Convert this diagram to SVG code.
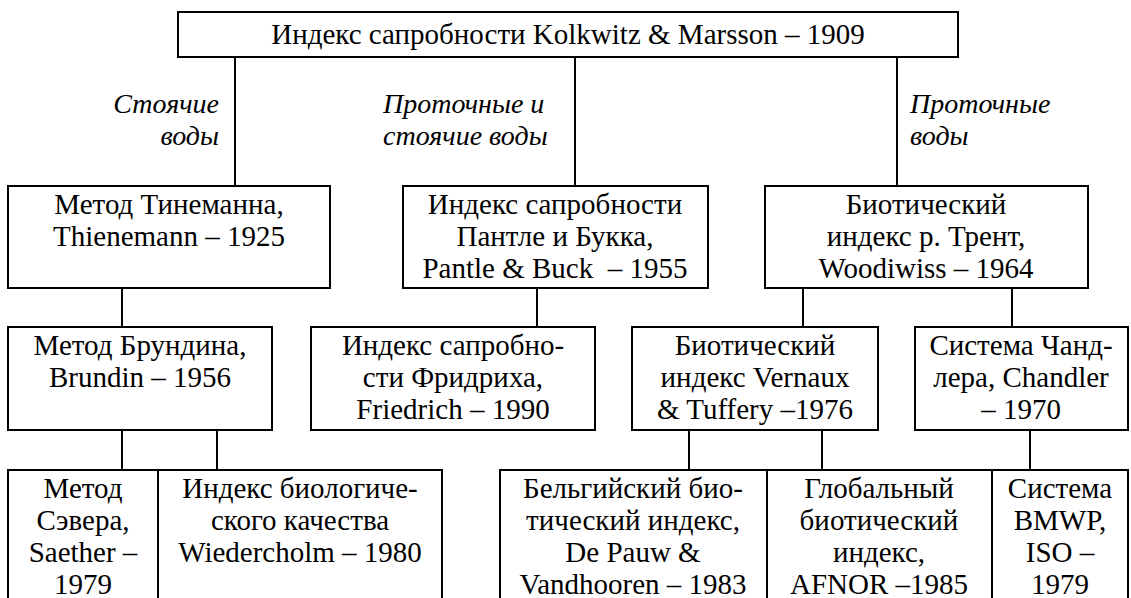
<svg xmlns="http://www.w3.org/2000/svg" width="1131" height="598" viewBox="0 0 1131 598">
<style>
.box{fill:#fff;stroke:#000;stroke-width:2}
text{font-family:'Liberation Serif','Times New Roman','DejaVu Serif',serif;fill:#000}
.t{font-size:29px;text-anchor:middle}
.i{font-size:28px;font-style:italic}
.c{stroke:#000;stroke-width:2;fill:none}
</style>
<rect width="1131" height="598" fill="#fff"/>
<g id="connectors">
<path class="c" d="M235 57V186M575 57V186M897 57V186"/>
<path class="c" d="M122 288V327M537 288V327M803 288V327M1012 288V327"/>
<path class="c" d="M122 430V470M217 430V470M689 430V470M822 430V470M1030 430V470"/>
</g>
<g id="labels">
<text class="i" x="219" y="113" text-anchor="end">Стоячие</text>
<text class="i" x="219" y="145" text-anchor="end">воды</text>
<text class="i" x="383" y="113">Проточные и</text>
<text class="i" x="383" y="145">стоячие воды</text>
<text class="i" x="910" y="113">Проточные</text>
<text class="i" x="910" y="145">воды</text>
</g>
<g id="n-root"><rect class="box" x="178" y="12" width="780" height="45"/><text class="t" x="568" y="44">Индекс сапробности Kolkwitz &amp; Marsson – 1909</text></g>
<g id="n-thienemann"><rect class="box" x="8" y="186" width="322" height="102"/><text class="t" x="169" y="214">Метод Тинеманна,</text><text class="t" x="169" y="246">Thienemann – 1925</text></g>
<g id="n-pantle"><rect class="box" x="403" y="186" width="305" height="102"/><text class="t" x="555" y="214">Индекс сапробности</text><text class="t" x="555" y="246">Пантле и Букка,</text><text class="t" x="555" y="278">Pantle &amp; Buck &#160;– 1955</text></g>
<g id="n-trent"><rect class="box" x="765" y="186" width="323" height="102"/><text class="t" x="926" y="214">Биотический</text><text class="t" x="926" y="246">индекс р. Трент,</text><text class="t" x="926" y="278">Woodiwiss – 1964</text></g>
<g id="n-brundin"><rect class="box" x="8" y="327" width="264" height="103"/><text class="t" x="140" y="355">Метод Брундина,</text><text class="t" x="140" y="387">Brundin – 1956</text></g>
<g id="n-friedrich"><rect class="box" x="311" y="327" width="284" height="103"/><text class="t" x="453" y="355">Индекс сапробно-</text><text class="t" x="453" y="387">сти Фридриха,</text><text class="t" x="453" y="419">Friedrich – 1990</text></g>
<g id="n-vernaux"><rect class="box" x="632" y="327" width="246" height="103"/><text class="t" x="755" y="355">Биотический</text><text class="t" x="755" y="387">индекс Vernaux</text><text class="t" x="755" y="419">&amp; Tuffery –1976</text></g>
<g id="n-chandler"><rect class="box" x="915" y="327" width="213" height="103"/><text class="t" x="1021" y="355">Система Чанд-</text><text class="t" x="1021" y="387">лера, Chandler</text><text class="t" x="1021" y="419">– 1970</text></g>
<g id="n-saether"><rect class="box" x="8" y="470" width="150" height="140"/><text class="t" x="83" y="498">Метод</text><text class="t" x="83" y="530">Сэвера,</text><text class="t" x="83" y="562">Saether –</text><text class="t" x="83" y="594">1979</text></g>
<g id="n-wiedercholm"><rect class="box" x="158" y="470" width="284" height="140"/><text class="t" x="300" y="498">Индекс биологиче-</text><text class="t" x="300" y="530">ского качества</text><text class="t" x="300" y="562">Wiedercholm – 1980</text></g>
<g id="n-belgian"><rect class="box" x="500" y="470" width="267" height="140"/><text class="t" x="633" y="498">Бельгийский био-</text><text class="t" x="633" y="530">тический индекс,</text><text class="t" x="633" y="562">De Pauw &amp;</text><text class="t" x="633" y="594">Vandhooren – 1983</text></g>
<g id="n-global"><rect class="box" x="767" y="470" width="225" height="140"/><text class="t" x="879" y="498">Глобальный</text><text class="t" x="879" y="530">биотический</text><text class="t" x="879" y="562">индекс,</text><text class="t" x="879" y="594">AFNOR –1985</text></g>
<g id="n-bmwp"><rect class="box" x="992" y="470" width="136" height="140"/><text class="t" x="1060" y="498">Система</text><text class="t" x="1060" y="530">BMWP,</text><text class="t" x="1060" y="562">ISO –</text><text class="t" x="1060" y="594">1979</text></g>
</svg>
